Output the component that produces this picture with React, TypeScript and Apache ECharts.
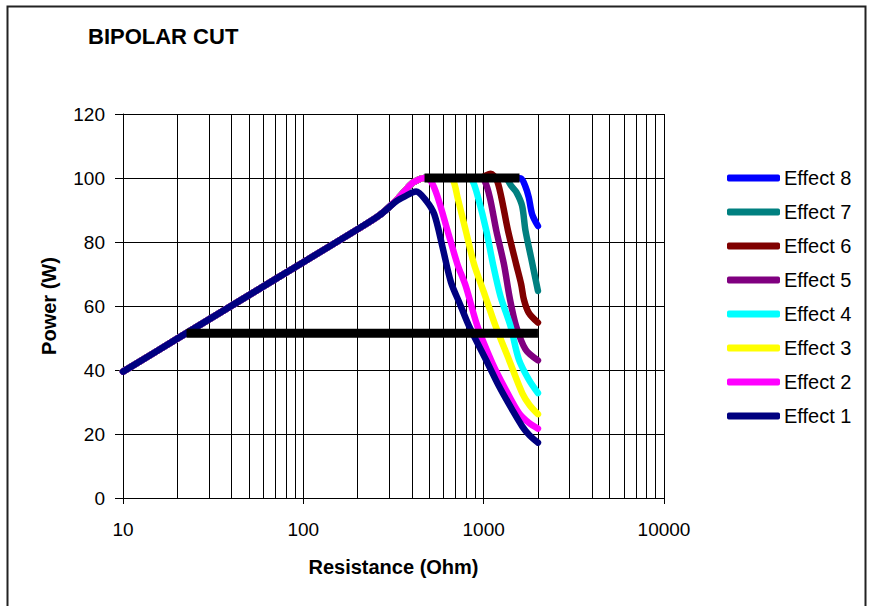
import React, { useEffect, useRef } from "react";
import * as echarts from "echarts";

// ---- data ----
const effectNames = ["Effect 8", "Effect 7", "Effect 6", "Effect 5", "Effect 4", "Effect 3", "Effect 2", "Effect 1"];
const effectColors = ["#0000FF", "#008080", "#800000", "#800080", "#00FFFF", "#FFFF00", "#FF00FF", "#000080"];

// shared rising part (Resistance Ohm, Power W)
const riseShared: number[][] = [[10, 39.5], [20, 49.8], [50, 63.4], [100, 73.7], [200, 84], [265, 88.4]];
// climb to the 100 W plateau shared by effects 2..8
const climbTo100: number[][] = [[327, 93], [396, 98.1], [440, 99.6], [470, 100]];

const effect1Tail: number[][] = [[327, 92.7], [364, 94.2], [422, 95.8], [480, 92.9], [532, 88.7], [592, 78.3], [658, 67.5], [740, 60.5], [830, 53.7], [1028, 43.3], [1217, 34.9], [1439, 27.6], [1636, 22.4], [1800, 19.5], [2000, 17.3]];
const effect2Tail: number[][] = [[510, 99], [556, 94], [631, 83.5], [716, 73], [796, 66.2], [923, 53.7], [1117, 42.2], [1324, 33.9], [1567, 26.6], [1780, 23.5], [2000, 21.7]];
const effect3Tail: number[][] = [[640, 100], [680, 99], [716, 94], [796, 83.5], [885, 73], [1000, 64.5], [1165, 53.7], [1380, 43.3], [1636, 32.8], [1800, 29], [2000, 26.2]];
const effect4Tail: number[][] = [[820, 100], [870, 99], [930, 94], [1035, 83.5], [1127, 73], [1240, 63], [1409, 53.7], [1567, 43.3], [1780, 37], [2000, 32.8]];
const effect5Tail: number[][] = [[960, 100], [1014, 99], [1081, 94], [1176, 83.5], [1296, 73], [1394, 62.6], [1514, 53.7], [1708, 46.4], [2000, 43]];
const effect6Tail: number[][] = [[960, 100], [1000, 100.5], [1094, 101.3], [1180, 99.5], [1253, 94], [1365, 83.5], [1515, 73], [1614, 66.8], [1672, 62], [1778, 57.9], [2000, 54.8]];
const effect7Tail: number[][] = [[1300, 100], [1350, 99.6], [1419, 97.6], [1520, 95.5], [1633, 91.3], [1706, 83.5], [1832, 75.1], [2000, 64.7]];
const effect8Tail: number[][] = [[1500, 100], [1614, 99.8], [1700, 97.5], [1778, 94], [1856, 88.7], [2000, 85]];

const topBar: number[][] = [[470, 100], [1580, 100]];
const lowBar: number[][] = [[22.5, 51.5], [2000, 51.5]];

const minorGrid: number[] = [20, 30, 40, 50, 60, 70, 80, 90, 200, 300, 400, 500, 600, 700, 800, 900, 2000, 3000, 4000, 5000, 6000, 7000, 8000, 9000];

const FONT = "'Liberation Sans', Arial, sans-serif";

export default function App() {
  const ref = useRef<HTMLDivElement>(null);
  useEffect(() => {
    if (!ref.current) return;
    const chart = echarts.init(ref.current, null, { renderer: "svg" });

    const effectData: number[][][] = [
      [...riseShared, ...climbTo100, ...effect8Tail],
      [...riseShared, ...climbTo100, ...effect7Tail],
      [...riseShared, ...climbTo100, ...effect6Tail],
      [...riseShared, ...climbTo100, ...effect5Tail],
      [...riseShared, ...climbTo100, ...effect4Tail],
      [...riseShared, ...climbTo100, ...effect3Tail],
      [...riseShared, ...climbTo100, ...effect2Tail],
      [...riseShared, ...effect1Tail],
    ];

    const effectSeries = effectNames.map((name, i) => ({
      name,
      type: "line",
      data: effectData[i],
      smooth: 0.3,
      showSymbol: false,
      symbol: "none",
      color: effectColors[i],
      itemStyle: { color: effectColors[i] },
      lineStyle: { color: effectColors[i], width: 6.5, cap: "round", join: "round" },
      z: 3,
    }));

    const barSeries = [topBar, lowBar].map((d, i) => ({
      name: i === 0 ? "limitHigh" : "limitLow",
      type: "line",
      data: d,
      showSymbol: false,
      symbol: "none",
      color: "#000",
      lineStyle: { color: "#000", width: 9, cap: "butt" },
      z: 4,
    }));

    const gridHelper = {
      name: "minorGrid",
      type: "line",
      data: [],
      silent: true,
      markLine: {
        silent: true,
        symbol: ["none", "none"],
        label: { show: false },
        z: 1,
        lineStyle: { color: "#000", width: 1, type: "solid" },
        emphasis: { disabled: true },
        data: minorGrid.map((v) => ({ xAxis: v })),
      },
    };

    chart.setOption({
      animation: false,
      backgroundColor: "#fff",
      textStyle: { fontFamily: FONT },
      title: {
        text: "BIPOLAR CUT",
        left: 88,
        top: 25,
        padding: 0,
        textStyle: { fontFamily: FONT, fontSize: 22, fontWeight: "bold", color: "#000" },
      },
      grid: { left: 123, top: 114, right: 208, bottom: 108, outerBoundsMode: "none" },
      legend: {
        orient: "vertical",
        left: 727,
        top: 167,
        padding: 0,
        itemWidth: 53,
        itemHeight: 7,
        itemGap: 12,
        icon: "roundRect",
        data: effectNames,
        selectedMode: false,
        textStyle: { fontFamily: FONT, fontSize: 20, lineHeight: 22, color: "#000", padding: [0, 0, 0, -1] },
      },
      xAxis: {
        type: "log",
        logBase: 10,
        min: 10,
        max: 10000,
        name: "Resistance (Ohm)",
        nameLocation: "middle",
        nameGap: 59,
        nameTextStyle: { fontFamily: FONT, fontSize: 20, fontWeight: "bold", color: "#000" },
        axisLine: { show: true, lineStyle: { color: "#000", width: 1 } },
        axisTick: { show: true, inside: false, length: 6, lineStyle: { color: "#000" } },
        axisLabel: {
          margin: 22,
          fontSize: 19,
          color: "#000",
          fontFamily: FONT,
          formatter: (v: number) => String(Math.round(v)),
        },
        splitLine: { show: true, lineStyle: { color: "#000", width: 1 } },
      },
      yAxis: {
        type: "value",
        min: 0,
        max: 120,
        interval: 20,
        name: "Power (W)",
        nameLocation: "middle",
        nameGap: 64,
        nameTextStyle: { fontFamily: FONT, fontSize: 20, fontWeight: "bold", color: "#000" },
        axisLine: { show: true, lineStyle: { color: "#000", width: 1 } },
        axisTick: { show: true, inside: false, length: 8, lineStyle: { color: "#000" } },
        axisLabel: { margin: 18, fontSize: 19, color: "#000", fontFamily: FONT },
        splitLine: { show: true, lineStyle: { color: "#000", width: 1 } },
      },
      graphic: [
        {
          type: "rect",
          silent: true,
          shape: { x: 7.5, y: 6.5, width: 858, height: 700 },
          style: { fill: "none", stroke: "#222", lineWidth: 2 },
          z: 100,
        },
      ],
      series: [gridHelper, ...effectSeries, ...barSeries],
    });

    return () => chart.dispose();
  }, []);

  return <div ref={ref} style={{ position: "fixed", left: 0, top: 0, width: 872, height: 606 }} />;
}
